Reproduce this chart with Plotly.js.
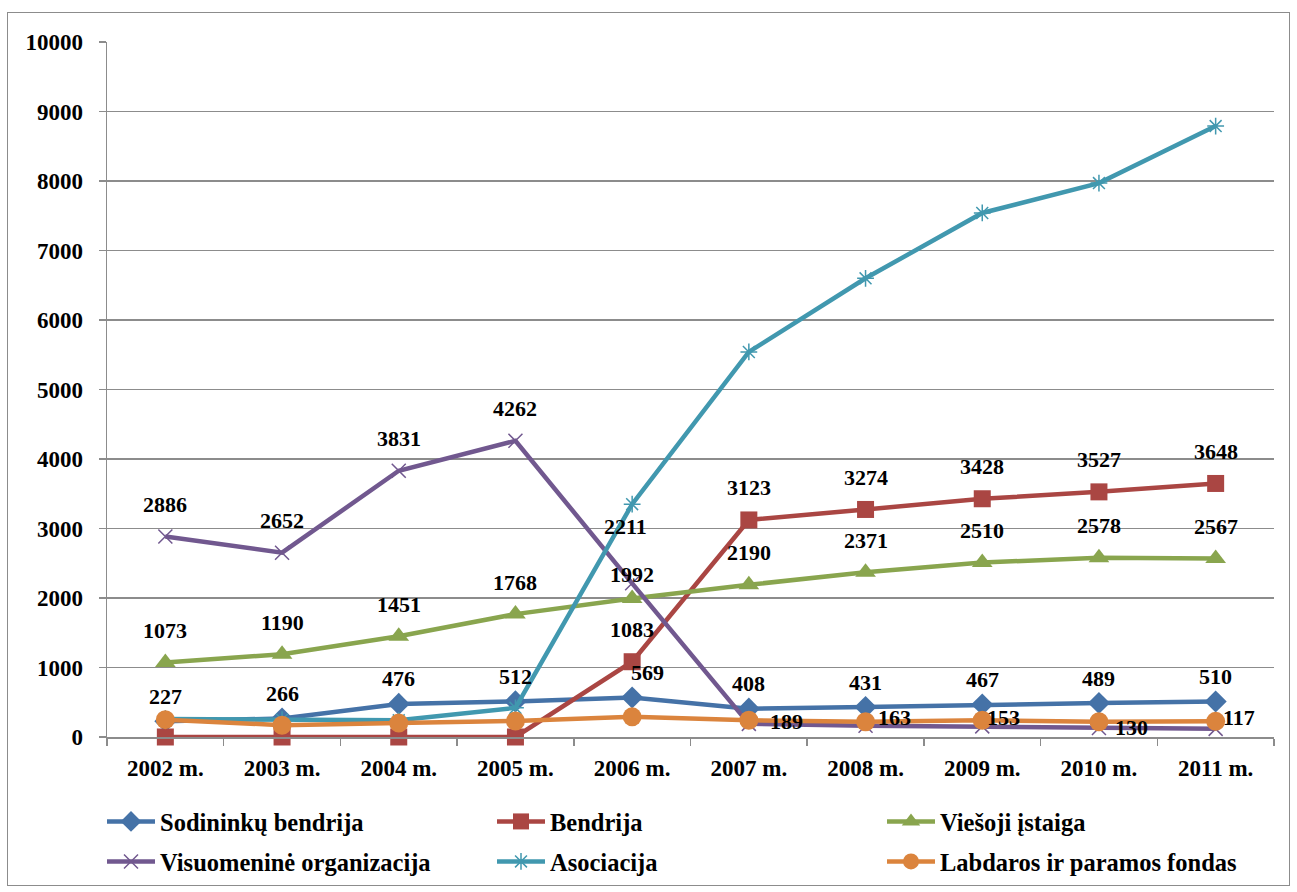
<!DOCTYPE html>
<html>
<head>
<meta charset="utf-8">
<script src="https://cdn.plot.ly/plotly-3.0.1.min.js"></script>
<style>
  html, body { margin: 0; padding: 0; background: #fff; }
  #chart { width: 1297px; height: 892px; position: relative; }
  #frame { position: absolute; left: 7px; top: 12px; width: 1283px; height: 874px;
           border: 1.5px solid #8c8c8c; pointer-events: none; box-sizing: border-box; }
</style>
</head>
<body>
<div style="position:relative">
  <div id="chart"></div>
  <div id="frame"></div>
</div>
<script>
const years = ['2002 m.', '2003 m.', '2004 m.', '2005 m.', '2006 m.', '2007 m.', '2008 m.', '2009 m.', '2010 m.', '2011 m.'];
const sodininku   = [227, 266, 476, 512, 569, 408, 431, 467, 489, 510];
const bendrija    = [0, 0, 0, 0, 1083, 3123, 3274, 3428, 3527, 3648];
const viesoji     = [1073, 1190, 1451, 1768, 1992, 2190, 2371, 2510, 2578, 2567];
const visuomenine = [2886, 2652, 3831, 4262, 2211, 189, 163, 153, 130, 117];
const asociacija  = [260, 250, 240, 420, 3350, 5540, 6600, 7540, 7970, 8790];
const labdaros    = [250, 170, 200, 230, 290, 240, 220, 240, 220, 225];

const names = ['Sodininkų bendrija', 'Bendrija', 'Viešoji įstaiga',
               'Visuomeninė organizacija', 'Asociacija', 'Labdaros ir paramos fondas'];
const seriesData = [sodininku, bendrija, viesoji, visuomenine, asociacija, labdaros];
const colors = ['#4572A7', '#AA4643', '#89A54E', '#71588F', '#4198AF', '#DB843D'];
const markers = [
  {symbol: 'diamond', size: 17},
  {symbol: 'square', size: 17},
  {symbol: 'triangle-up', size: 18},
  {symbol: 'x-thin-open', size: 14},
  {symbol: 'asterisk-open', size: 14},
  {symbol: 'circle', size: 19}
];
const labelled = [true, true, true, true, false, false];

const FONT = "'Liberation Serif', 'Times New Roman', serif";
const legendKeys = ['legend', 'legend2', 'legend3', 'legend4', 'legend5', 'legend6'];

const traces = seriesData.map((vals, i) => ({
  type: 'scatter', mode: 'lines+markers',
  x: years, y: vals, name: names[i],
  legend: legendKeys[i],
  line: {color: colors[i], width: 4.5},
  marker: {symbol: markers[i].symbol, size: markers[i].size, color: colors[i],
           line: {color: colors[i], width: (i === 3 || i === 4) ? 1.5 : 0}},
  cliponaxis: false,
  hoverinfo: 'x+y+name'
}));

// label placement (pixel offsets) for the right-hand labels of the falling series
const rightLabelShift = {5: [38, 2], 6: [29, 8], 7: [21, 9], 8: [33, 0], 9: [23, 11]};

const annotations = [];
seriesData.forEach((vals, s) => {
  if (!labelled[s]) return;
  vals.forEach((v, j) => {
    if (s === 1 && v === 0) return;
    let xs = 0, ys = 32;
    if (s === 0) { ys = 25; if (j === 4) xs = 15; }
    if (s === 3 && j >= 5) { xs = rightLabelShift[j][0]; ys = rightLabelShift[j][1]; }
    if (s === 3 && j === 4) { ys = 57; xs = -7; }
    if (s === 2 && j === 4) { ys = 24; }
    annotations.push({
      x: years[j], y: v, xref: 'x', yref: 'y', text: String(v), showarrow: false,
      xshift: xs, yshift: ys,
      font: {family: FONT, size: 22, color: '#000', weight: 'bold'}
    });
  });
});

const layout = {
  width: 1297, height: 892,
  margin: {l: 107, r: 23, t: 42, b: 155, autoexpand: false},
  paper_bgcolor: 'rgba(0,0,0,0)', plot_bgcolor: '#fff',
  showlegend: true,
  font: {family: FONT, size: 18, color: '#000'},
  xaxis: {
    type: 'category', range: [-0.5, 9.5],
    showline: true, linecolor: '#8c8c8c', linewidth: 1.5,
    ticks: 'outside', tickson: 'boundaries', ticklen: 7, tickcolor: '#8c8c8c', tickwidth: 1.5,
    showgrid: false, zeroline: false, automargin: false,
    tickfont: {family: FONT, size: 23, color: '#000', weight: 'bold'},
    ticklabelstandoff: 10
  },
  yaxis: {
    range: [0, 10000], dtick: 1000, tickformat: 'd',
    showline: true, linecolor: '#8c8c8c', linewidth: 1.5,
    ticks: 'outside', ticklen: 7, tickcolor: '#8c8c8c', tickwidth: 1.5,
    showgrid: true, gridcolor: '#8c8c8c', gridwidth: 1.5, zeroline: false, automargin: false,
    tickfont: {family: FONT, size: 23, color: '#000', weight: 'bold'},
    ticklabelstandoff: 11
  },
  annotations: annotations
};

// legend grid: 3 columns x 2 rows
const plotW = 1297 - 107 - 23, plotH = 892 - 42 - 155;
const colPx = [-5, 385, 775];
const rowPx = [62, 102];
legendKeys.forEach((k, i) => {
  layout[k] = {
    orientation: 'h', xanchor: 'left', yanchor: 'top',
    x: colPx[i % 3] / plotW, y: -rowPx[Math.floor(i / 3)] / plotH,
    bgcolor: 'rgba(0,0,0,0)', itemwidth: 48,
    font: {family: FONT, size: 24.5, color: '#000', weight: 'bold'}
  };
});

Plotly.newPlot('chart', traces, layout, {displayModeBar: false, staticPlot: true});
</script>
</body>
</html>
